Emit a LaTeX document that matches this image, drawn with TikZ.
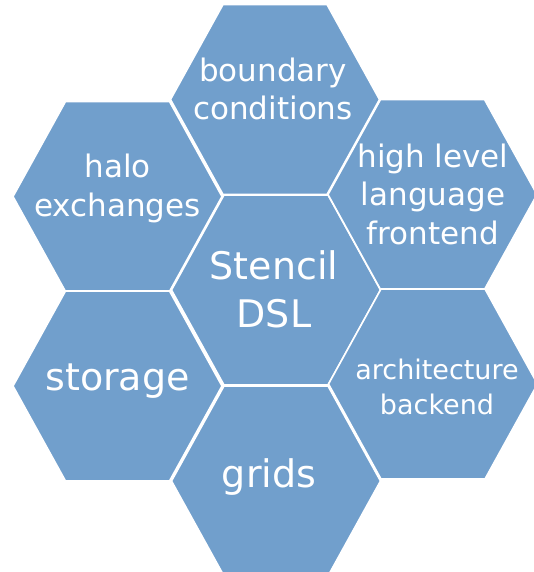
\documentclass[tikz,border=0pt]{standalone}
\usepackage{fontspec}
\setmainfont{DejaVu Sans}
\definecolor{hexfill}{RGB}{113,159,204}
\tikzset{
  hexagon/.style={fill=hexfill, draw=white, line width=1.6pt, line join=miter},
  hexcell/.pic={\path[hexagon] (-104.5,0) -- (-52,-95) -- (52,-95) -- (104.5,0) -- (52,95) -- (-52,95) -- cycle;},
  lbl/.style={text=white, align=center, inner sep=0pt},
  bigtxt/.style={font=\fontsize{38}{48}\selectfont},
  midtxt/.style={font=\fontsize{31}{38.5}\selectfont},
  smalltxt/.style={font=\fontsize{27}{35}\selectfont},
}
\begin{document}
\begin{tikzpicture}[x=1pt,y=-1pt]
\useasboundingbox (0,0) rectangle (534,572);
\clip (0,0) rectangle (534,572);
\pic at (275,99.5) {hexcell};
\pic at (276,290) {hexcell};
\pic at (276,481) {hexcell};
\pic at (117.5,196.5) {hexcell};
\pic at (117.5,386) {hexcell};
\pic at (432.5,194.5) {hexcell};
\pic at (433,384) {hexcell};
\node[lbl,midtxt] (boundary) at (273,88.7) {boundary\\conditions};
\node[lbl,bigtxt] (stencil) at (274,289.5) {Stencil\\DSL};
\node[lbl,bigtxt] (grids) at (269,477) {grids};
\node[lbl,midtxt] (halo) at (117.5,188.6) {halo\\exchanges};
\node[lbl,bigtxt] (storage) at (117.5,381) {storage};
\node[lbl,midtxt] (highlevel) at (433,194.2) {high level\\language\\frontend};
\node[lbl,smalltxt] (arch) at (437,387.3) {architecture\\backend};
\end{tikzpicture}
\end{document}
